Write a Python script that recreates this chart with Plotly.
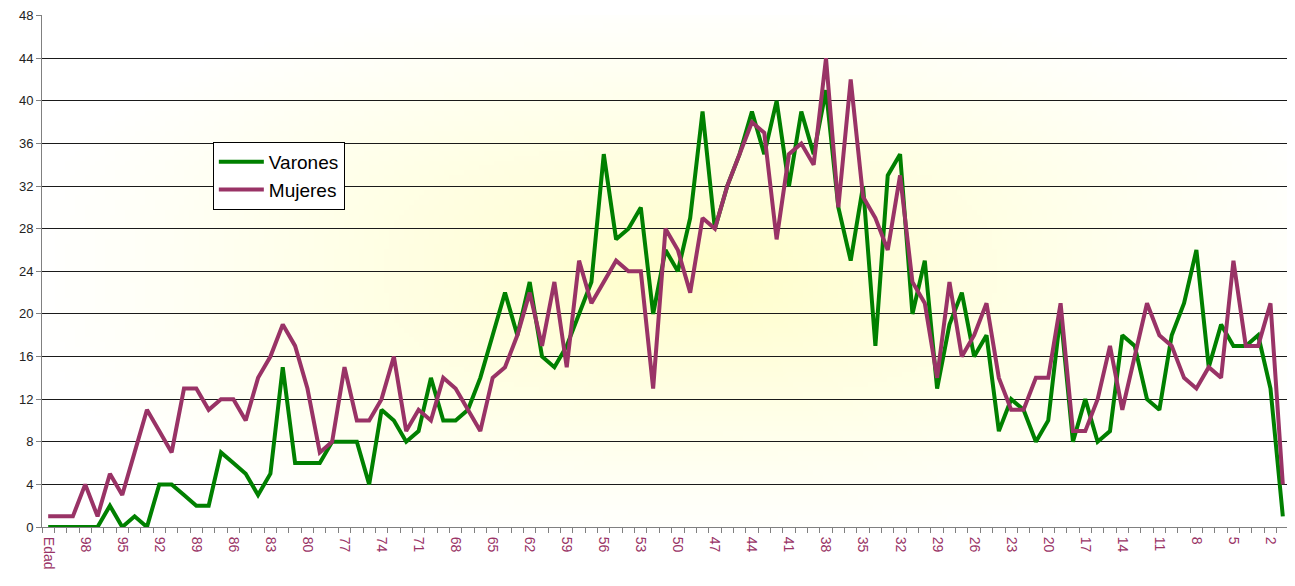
import base64
import struct
import zlib

import plotly.graph_objects as go

# ---------------- data ----------------
categories = ["Edad"] + [str(v) for v in range(100, 0, -1)]

varones = [
    0, 0, 0, 0, 0, 2, 0, 1, 0, 4,
    4, 3, 2, 2, 7, 6, 5, 3, 5, 15,
    6, 6, 6, 8, 8, 8, 4, 11, 10, 8,
    9, 14, 10, 10, 11, 14, 18, 22, 18, 23,
    16, 15, 17, 20, 23, 35, 27, 28, 30, 20,
    26, 24, 29, 39, 28, 32, 35, 39, 35, 40,
    32, 39, 35, 41, 30, 25, 32, 17, 33, 35,
    20, 25, 13, 19, 22, 16, 18, 9, 12, 11,
    8, 10, 20, 8, 12, 8, 9, 18, 17, 12,
    11, 18, 21, 26, 15, 19, 17, 17, 18, 13,
    1,
]

mujeres = [
    1, 1, 1, 4, 1, 5, 3, 7, 11, 9,
    7, 13, 13, 11, 12, 12, 10, 14, 16, 19,
    17, 13, 7, 8, 15, 10, 10, 12, 16, 9,
    11, 10, 14, 13, 11, 9, 14, 15, 18, 22,
    17, 23, 15, 25, 21, 23, 25, 24, 24, 13,
    28, 26, 22, 29, 28, 32, 35, 38, 37, 27,
    35, 36, 34, 44, 30, 42, 31, 29, 26, 33,
    23, 21, 14, 23, 16, 18, 21, 14, 11, 11,
    14, 14, 21, 9, 9, 12, 17, 11, 16, 21,
    18, 17, 14, 13, 15, 14, 25, 17, 17, 21,
    4,
]

tick_text = [c if i % 3 == 0 else "" for i, c in enumerate(categories)]
y_ticks = list(range(0, 49, 4))


# ---------------- gradient background (yellow centre fading to white) ----------------
def make_png(w, h):
    rows = []
    for j in range(h):
        row = bytearray([0])
        dy = abs((j + 0.5 - h * 0.5) / (h * 0.5))
        for i in range(w):
            dx = abs((i + 0.5 - w * 0.52) / (w * 0.5))
            d = (dx ** 2.5 + dy ** 2.5) ** (1 / 2.5)
            t = min(d / 1.05, 1.0)
            t = t ** 0.9
            b = int(round(200 + (255 - 200) * t))
            g = int(round(254 + (255 - 254) * t))
            row += bytes([255, g, b])
        rows.append(bytes(row))
    raw = b"".join(rows)

    def chunk(tag, data):
        c = struct.pack(">I", len(data)) + tag + data
        return c + struct.pack(">I", zlib.crc32(tag + data) & 0xFFFFFFFF)

    png = b"\x89PNG\r\n\x1a\n"
    png += chunk(b"IHDR", struct.pack(">IIBBBBB", w, h, 8, 2, 0, 0, 0))
    png += chunk(b"IDAT", zlib.compress(raw, 9))
    png += chunk(b"IEND", b"")
    return "data:image/png;base64," + base64.b64encode(png).decode()


bg = make_png(250, 104)

# ---------------- figure ----------------
# (the page body has an 8px margin, so the figure margins compensate for it)
fig = go.Figure()
fig.add_trace(go.Scatter(
    x=categories, y=varones, mode="lines", name="Varones",
    line=dict(color="#008000", width=4),
))
fig.add_trace(go.Scatter(
    x=categories, y=mujeres, mode="lines", name="Mujeres",
    line=dict(color="#993366", width=4),
))

fig.update_layout(
    width=1295, height=586,
    margin=dict(l=34, r=14, t=7, b=67, autoexpand=False),
    paper_bgcolor="white",
    plot_bgcolor="rgba(0,0,0,0)",
    font=dict(family="Liberation Sans, Arial, sans-serif", size=13, color="#222"),
    showlegend=True,
    legend=dict(
        x=0.137, y=0.752, xanchor="left", yanchor="top",
        bgcolor="white", bordercolor="black", borderwidth=1,
        font=dict(size=19, color="black"),
        tracegroupgap=0, itemwidth=45,
    ),
    images=[dict(
        source=bg, xref="paper", yref="paper", x=0, y=1,
        sizex=1, sizey=1, sizing="stretch", layer="below",
        xanchor="left", yanchor="top",
    )],
)

fig.update_xaxes(
    type="category", automargin=False,
    range=[-0.5, len(categories) - 0.5],
    tickmode="array", tickvals=categories, ticktext=tick_text,
    tickson="boundaries",
    ticks="outside", ticklen=5, tickcolor="#808080",
    tickangle=90, ticklabelstandoff=6,
    tickfont=dict(color="#993366", size=14),
    showline=True, linecolor="#808080", linewidth=1,
    showgrid=False, zeroline=False,
)
fig.update_yaxes(
    automargin=False,
    range=[0, 48.06],
    tickmode="array", tickvals=y_ticks,
    ticks="outside", ticklen=5, tickcolor="#808080",
    ticklabeloverflow="allow",
    tickfont=dict(color="#222", size=13),
    showline=True, linecolor="#808080", linewidth=1,
    showgrid=True, gridcolor="#1a1a1a", gridwidth=1,
    zeroline=False,
)

fig.write_html("out.html")
